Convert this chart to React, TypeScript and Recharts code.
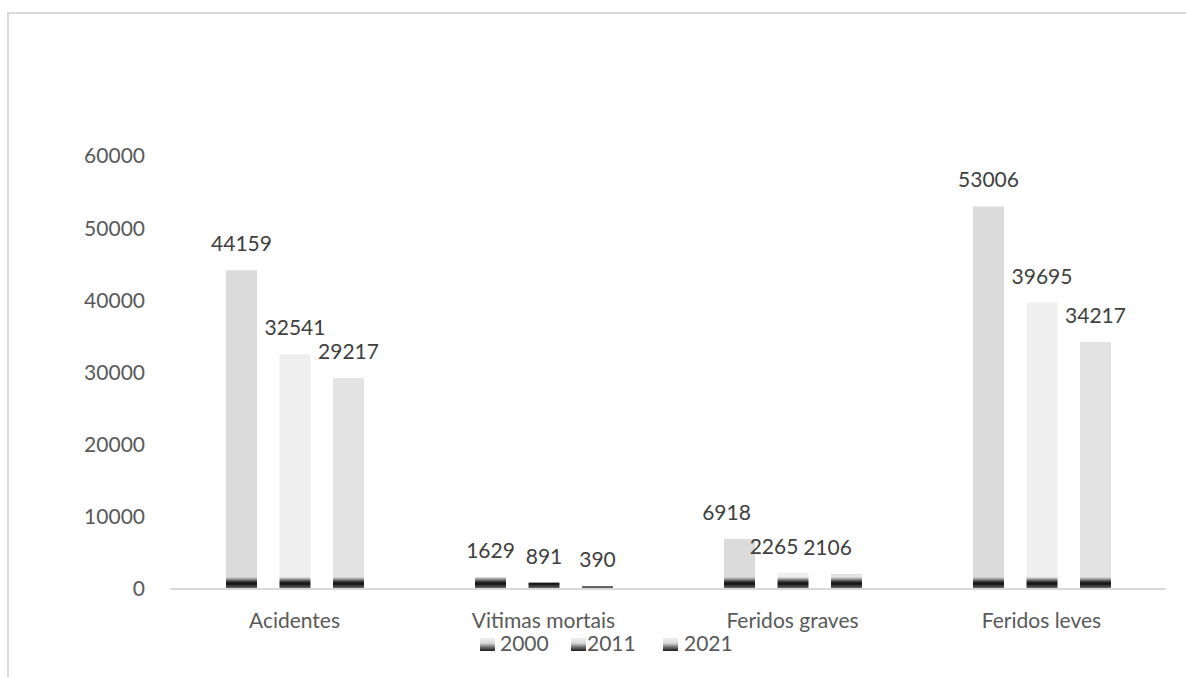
import { BarChart, Bar, XAxis, YAxis, Legend, LabelList } from "recharts"

const categories = ["Acidentes", "Vitimas mortais", "Feridos graves", "Feridos leves"]
const years = ["2000", "2011", "2021"]
const values2000 = [44159, 1629, 6918, 53006]
const values2011 = [32541, 891, 2265, 39695]
const values2021 = [29217, 390, 2106, 34217]
const yTicks = [0, 10000, 20000, 30000, 40000, 50000, 60000]

const data = categories.map((name, i) => ({
  name,
  y2000: values2000[i],
  y2011: values2011[i],
  y2021: values2021[i],
}))

const FONT = "Lato, 'Open Sans', sans-serif"
const PLOT_TOP = 156
const PLOT_BOTTOM = 589

// bar face colours, per year
const series = [
  { key: "y2000", name: years[0], color: "#dbdbdb", shift: [0, 0, -13, 0] },
  { key: "y2011", name: years[1], color: "#efefef", shift: [0, 0, -19, 0] },
  { key: "y2021", name: years[2], color: "#e3e3e3", shift: [0, 0, -19, 0] },
]

// where the dark base fades in (page pixels)
const stop = (y: number) => (y - PLOT_TOP) / (PLOT_BOTTOM - PLOT_TOP)

const makeLabel = (shift: number[]) => (props: any) => {
  const { x, y, width, value, index } = props
  return (
    <text
      x={Number(x) + Number(width) / 2 + (shift[index] || 0)}
      y={Number(y) - 19}
      textAnchor="middle"
      fill="#404040"
      fontSize={21}
      fontFamily={FONT}
    >
      {value}
    </text>
  )
}

const legendIcon = (left: number) => (
  <div
    style={{
      position: "absolute",
      left,
      top: 7,
      width: 15,
      height: 13,
      background: "linear-gradient(to bottom, #f0f0f0 0%, #d8d8d8 40%, #6a6a6a 72%, #1a1a1a 100%)",
    }}
  />
)

const legendText = (left: number, label: string) => (
  <div
    style={{
      position: "absolute",
      left,
      top: 0,
      fontFamily: FONT,
      fontSize: 21,
      lineHeight: "24px",
      color: "#595959",
    }}
  >
    {label}
  </div>
)

const renderLegend = () => (
  <div style={{ position: "relative", width: 1186, height: 26 }}>
    {legendIcon(480)}
    {legendText(500, years[0])}
    {legendIcon(571)}
    {legendText(587, years[1])}
    {legendIcon(663)}
    {legendText(684, years[2])}
  </div>
)

export default function App() {
  return (
    <div style={{ position: "fixed", left: 0, top: 0, width: 1186, height: 677, overflow: "hidden", background: "#fff" }}>
      <div
        style={{
          position: "absolute",
          left: 7,
          top: 12,
          width: 1186,
          height: 677,
          borderTop: "2px solid #d9d9d9",
          borderLeft: "2px solid #d9d9d9",
        }}
      />
      <div style={{ position: "absolute", left: 0, top: 0 }}>
        <BarChart
          width={1186}
          height={677}
          data={data}
          margin={{ top: PLOT_TOP, right: 20, bottom: 677 - PLOT_BOTTOM - 30, left: 0 }}
          barSize={31}
          barGap={22.5}
        >
          <defs>
            {series.map((s) => (
              <linearGradient
                key={s.key}
                id={`fill-${s.key}`}
                gradientUnits="userSpaceOnUse"
                x1="0"
                y1={PLOT_TOP}
                x2="0"
                y2={PLOT_BOTTOM}
              >
                <stop offset={0} stopColor={s.color} />
                <stop offset={stop(577)} stopColor={s.color} />
                <stop offset={stop(579.5)} stopColor="#8a8a8a" />
                <stop offset={stop(582)} stopColor="#2a2a2a" />
                <stop offset={stop(584)} stopColor="#111111" />
                <stop offset={stop(586.5)} stopColor="#4a4a4a" />
                <stop offset={1} stopColor="#7a7a7a" />
              </linearGradient>
            ))}
          </defs>
          <XAxis
            dataKey="name"
            height={30}
            tickLine={false}
            tickSize={0}
            tickMargin={24}
            axisLine={{ stroke: "#d9d9d9", strokeWidth: 2 }}
            tick={{ fill: "#595959", fontSize: 21, fontFamily: FONT }}
            interval={0}
          />
          <YAxis
            width={170}
            domain={[0, 60000]}
            ticks={yTicks}
            axisLine={false}
            tickLine={false}
            tickSize={0}
            tickMargin={25}
            tick={{ fill: "#595959", fontSize: 21, fontFamily: FONT }}
          />
          <Legend
            layout="vertical"
            align="center"
            verticalAlign="middle"
            wrapperStyle={{ position: "absolute", left: 0, top: 631, width: 1186, height: 26 }}
            content={renderLegend}
          />
          {series.map((s) => (
            <Bar key={s.key} dataKey={s.key} name={s.name} fill={`url(#fill-${s.key})`} isAnimationActive={false}>
              <LabelList dataKey={s.key} content={makeLabel(s.shift)} />
            </Bar>
          ))}
        </BarChart>
      </div>
    </div>
  )
}
